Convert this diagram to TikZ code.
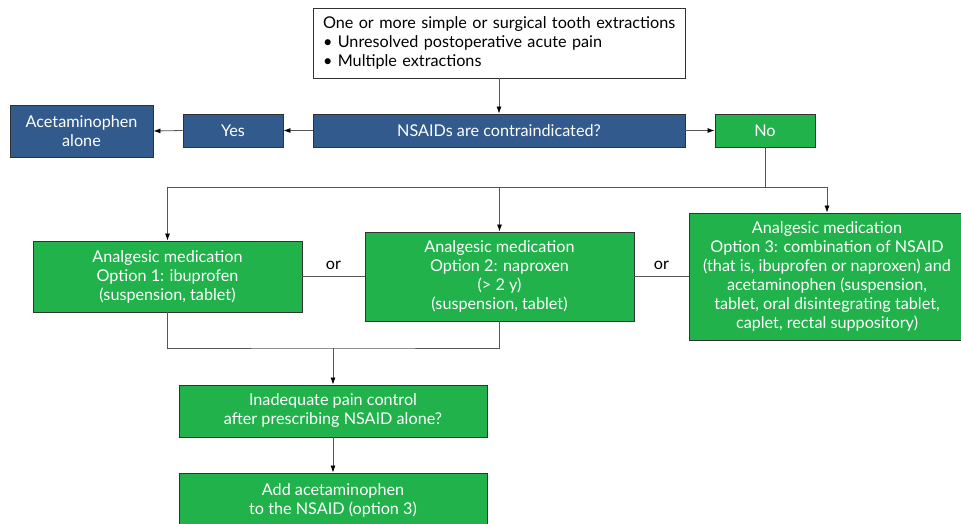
\documentclass[tikz,border=0pt]{standalone}
\usepackage{fontspec}
\setmainfont{Lato}
\usetikzlibrary{arrows.meta}
\definecolor{nblue}{RGB}{50,90,140}
\definecolor{ngreen}{RGB}{33,178,75}
\definecolor{edgec}{RGB}{50,50,50}
\definecolor{wirec}{RGB}{85,85,85}
\begin{document}
\begin{tikzpicture}[x=1pt,y=-1pt,
  box/.style={draw=edgec, line width=0.9pt, rectangle, inner sep=0pt, align=center,
    font=\fontsize{16.2}{19}\selectfont},
  bluebox/.style={box, fill=nblue, text=white},
  greenbox/.style={box, fill=ngreen, text=white},
  wire/.style={draw=wirec, line width=0.8pt},
  arr/.style={wire, -{Latex[length=7pt,width=5pt,color=black]}},
  ortext/.style={font=\fontsize{16.2}{18}\selectfont, text=black}
]
\useasboundingbox (0,0) rectangle (961,523);
\clip (0,0) rectangle (961,523);
\fill[white] (0,0) rectangle (961,523);

\node[box, fill=white, text=black, align=left, minimum width=372pt, minimum height=70pt,
  inner xsep=7pt, text width=358pt] (top) at (499,43)
  {\hspace*{3pt}One or more simple or surgical tooth extractions\\
   \hspace*{3pt}• Unresolved postoperative acute pain\\
   \hspace*{3pt}• Multiple extractions};
\node[bluebox, minimum width=372pt, minimum height=33pt] (nsaid) at (499,130.5) {NSAIDs are contraindicated?};
\node[bluebox, minimum width=100pt, minimum height=33pt] (yes) at (233,130.5) {Yes};
\node[bluebox, minimum width=143pt, minimum height=52pt] (acet) at (81.5,131) {Acetaminophen\\alone};
\node[greenbox, minimum width=100pt, minimum height=33pt] (no) at (765,130.5) {No};

\node[greenbox, minimum width=269pt, minimum height=71pt] (opt1) at (167.5,276.5)
  {Analgesic medication\\Option 1: ibuprofen\\(suspension, tablet)};
\node[greenbox, minimum width=269pt, minimum height=89pt] (opt2) at (499.5,276.5)
  {Analgesic medication\\Option 2: naproxen\\(> 2 y)\\(suspension, tablet)};
\node[greenbox, minimum width=276pt, minimum height=127pt] (opt3) at (827,276.5)
  {Analgesic medication\\Option 3: combination of NSAID\\(that is, ibuprofen or naproxen) and\\acetaminophen (suspension,\\tablet, oral disintegrating tablet,\\caplet, rectal suppository)};

\node[greenbox, minimum width=308pt, minimum height=52pt] (inad) at (333,411)
  {Inadequate pain control\\after prescribing NSAID alone?};
\node[greenbox, minimum width=308pt, minimum height=54pt] (add) at (333,500)
  {Add acetaminophen\\to the NSAID (option 3)};

\coordinate (split) at (765,187);
\coordinate (merge) at (333,348);

\draw[arr] (top.south) -- (nsaid.north);
\draw[arr] (nsaid.west) -- (yes.east);
\draw[arr] (yes.west) -- (acet.east);
\draw[arr] (nsaid.east) -- (no.west);
\draw[wire] (no.south) -- (split);
\draw[arr] (split) -| (opt1.north);
\draw[arr] (split) -| (opt3.north);
\draw[arr] (opt2.north |- split) -- (opt2.north);
\draw[wire] (opt1.east) -- (opt2.west) node[midway, above=3pt, ortext] (or1) {or};
\draw[wire] (opt2.east) -- (opt3.west) node[midway, above=3pt, ortext] (or2) {or};
\draw[wire] (opt1.south) |- (merge) -| (opt2.south);
\draw[arr] (merge) -- (inad.north);
\draw[arr] (inad.south) -- (add.north);
\end{tikzpicture}
\end{document}
